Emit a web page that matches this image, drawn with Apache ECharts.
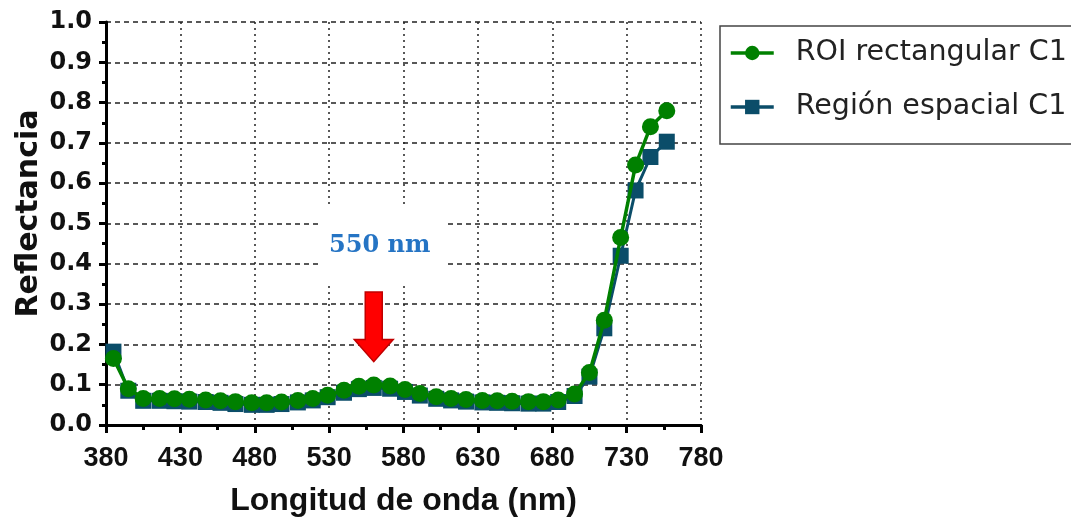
<!DOCTYPE html>
<html>
<head>
<meta charset="utf-8">
<script src="https://cdn.jsdelivr.net/npm/echarts@6/dist/echarts.min.js"></script>
<style>
html,body{margin:0;padding:0;background:#fff;}
#chart{width:1071px;height:519px;}
</style>
</head>
<body>
<div id="chart"></div>
<script>
// Wavelengths (nm)
const wavelengths = [385, 395, 405, 416, 426, 436, 447, 457, 467, 478, 488, 498, 509, 519, 529, 540, 550, 560, 571, 581, 591, 602, 612, 622, 633, 643, 653, 664, 674, 684, 695, 705, 715, 726, 736, 746, 757];
// ROI rectangular C1
const roiRect = [0.165, 0.090, 0.066, 0.066, 0.065, 0.064, 0.062, 0.060, 0.058, 0.055, 0.055, 0.057, 0.061, 0.066, 0.074, 0.086, 0.096, 0.099, 0.097, 0.088, 0.078, 0.070, 0.066, 0.063, 0.061, 0.060, 0.059, 0.058, 0.058, 0.062, 0.077, 0.130, 0.260, 0.465, 0.645, 0.740, 0.780];
// Región espacial C1
const regionEsp = [0.182, 0.085, 0.060, 0.060, 0.059, 0.058, 0.057, 0.055, 0.052, 0.050, 0.050, 0.052, 0.056, 0.061, 0.069, 0.080, 0.089, 0.092, 0.090, 0.082, 0.073, 0.065, 0.061, 0.058, 0.056, 0.055, 0.054, 0.053, 0.053, 0.057, 0.072, 0.120, 0.240, 0.420, 0.582, 0.665, 0.703];
const seriesNames = ['ROI rectangular C1', 'Región espacial C1'];
const xTicks = {min: 380, max: 780, interval: 50};
const yTicks = {min: 0, max: 1, interval: 0.1};
const annotationText = '550 nm';
const arrowX = 560;

const green = '#008000';
const teal = '#0b4d69';

const chart = echarts.init(document.getElementById('chart'));
const pairs = (ys) => wavelengths.map((w, i) => [w, ys[i]]);

chart.setOption({
  animation: false,
  backgroundColor: '#fff',
  grid: {left: 106, right: 370, top: 22, bottom: 94, containLabel: false, outerBoundsMode: 'none'},
  legend: {
    orient: 'vertical',
    left: 720, top: 26,
    data: [seriesNames[0], seriesNames[1]],
    itemWidth: 43, itemHeight: 18,
    itemGap: 22,
    padding: [11, 80, 21, 9],
    borderColor: '#444', borderWidth: 1.5,
    lineStyle: {width: 3.5},
    textStyle: {fontFamily: 'DejaVu Sans', fontSize: 28.5, color: '#222', lineHeight: 32, padding: [0, 0, 0, 17]}
  },
  xAxis: {
    type: 'value', min: xTicks.min, max: xTicks.max, interval: xTicks.interval,
    name: 'Longitud de onda (nm)', nameLocation: 'middle', nameGap: 60, nameMoveOverlap: false,
    nameTextStyle: {fontFamily: "'Liberation Sans', Arial, sans-serif", fontWeight: 'bold', fontSize: 32, color: '#111'},
    axisLine: {show: true, onZero: false, lineStyle: {color: '#000', width: 3}},
    axisTick: {show: true, length: 8, lineStyle: {color: '#000', width: 3}},
    minorTick: {show: true, splitNumber: 2, length: 5, lineStyle: {color: '#000', width: 3}},
    axisLabel: {fontFamily: "'Liberation Sans', Arial, sans-serif", fontWeight: 'bold', fontSize: 27, color: '#111', margin: 20},
    splitLine: {show: true, lineStyle: {color: '#222', width: 1.5, type: [2, 4]}}
  },
  yAxis: {
    type: 'value', min: yTicks.min, max: yTicks.max, interval: yTicks.interval,
    name: 'Reflectancia', nameLocation: 'middle', nameGap: 62, nameMoveOverlap: false,
    nameTextStyle: {fontFamily: 'DejaVu Sans', fontWeight: 'bold', fontSize: 30, color: '#111', padding: [0, 0, 0, 20]},
    axisLine: {show: true, onZero: false, lineStyle: {color: '#000', width: 3}},
    axisTick: {show: true, length: 7, lineStyle: {color: '#000', width: 3}},
    minorTick: {show: true, splitNumber: 2, length: 4, lineStyle: {color: '#000', width: 3}},
    axisLabel: {fontFamily: 'DejaVu Sans', fontWeight: 'bold', fontSize: 24, color: '#111', margin: 14,
      formatter: (v) => v.toFixed(1)},
    splitLine: {show: true, lineStyle: {color: '#222', width: 1.5, type: [5, 4]}}
  },
  series: [
    {
      name: seriesNames[1], type: 'line', data: pairs(regionEsp), z: 3,
      symbol: 'rect', symbolSize: 16, showAllSymbol: true,
      lineStyle: {color: teal, width: 3}, itemStyle: {color: teal}
    },
    {
      name: seriesNames[0], type: 'line', data: pairs(roiRect), z: 4,
      symbol: 'circle', symbolSize: 17, showAllSymbol: true,
      lineStyle: {color: green, width: 3.5}, itemStyle: {color: green}
    }
  ]
});

// Annotation placed via data coordinates
const px = (x, y) => chart.convertToPixel({gridIndex: 0}, [x, y]);
const boxA = px(524, 0.546), boxB = px(608, 0.355);
const txtPos = px(564, 0.444);
const arrTip = px(arrowX, 0.157), arrTop = px(arrowX, 0.33), arrNeck = px(arrowX, 0.212);
const sw = 8.5, hw = 19.5;
chart.setOption({
  graphic: [
    {type: 'rect', z: 5, shape: {x: boxA[0], y: boxA[1], width: boxB[0] - boxA[0], height: boxB[1] - boxA[1]}, style: {fill: '#fff'}},
    {type: 'text', z: 10, x: txtPos[0], y: txtPos[1], style: {text: annotationText, fill: '#2574c4', font: 'bold 24px "DejaVu Serif", serif', align: 'center', verticalAlign: 'middle'}},
    {type: 'polygon', z: 10, shape: {points: [
      [arrTop[0] - sw, arrTop[1]], [arrTop[0] + sw, arrTop[1]], [arrNeck[0] + sw, arrNeck[1]], [arrNeck[0] + hw, arrNeck[1]],
      [arrTip[0], arrTip[1]], [arrNeck[0] - hw, arrNeck[1]], [arrNeck[0] - sw, arrNeck[1]]
    ]}, style: {fill: '#ff0000', stroke: '#c00000', lineWidth: 1.5}}
  ]
});
</script>
</body>
</html>
